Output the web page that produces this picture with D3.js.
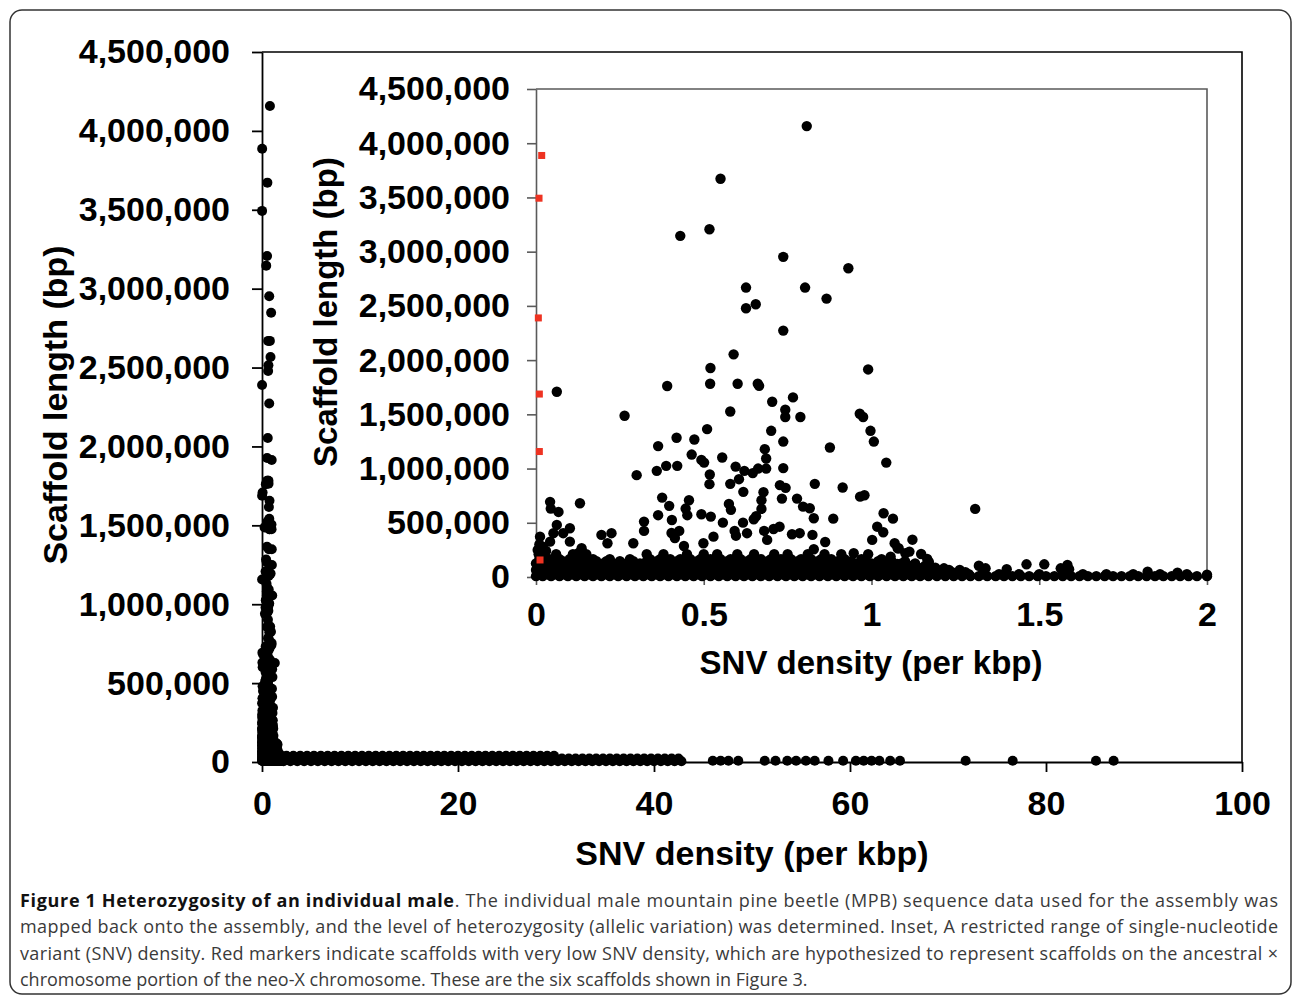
<!DOCTYPE html>
<html>
<head>
<meta charset="utf-8">
<script src="https://cdn.jsdelivr.net/npm/d3@7"></script>
<style>
  body { margin: 0; background: #fff; }
  text { font-family: "Liberation Sans", Arial, sans-serif; }
</style>
</head>
<body>
<svg id="fig" width="1293" height="999"></svg>
<script>
// scaffolds that stand out of the crowd, [SNV density per kbp, scaffold length bp]
const spreadPoints = [
  [0.430,3146000],[0.517,3207000],[0.550,3672000],[0.807,4158000],[0.737,2952000],
  [0.931,2847000],[0.626,2669000],[0.802,2669000],[0.626,2478000],[0.655,2515000],
  [0.866,2567000],[0.737,2272000],[0.589,2053000],[0.520,1927000],[0.990,1914000],
  [0.519,1782000],[0.601,1782000],[0.661,1782000],[0.665,1763000],[0.062,1708000],
  [0.391,1761000],[0.766,1656000],[0.704,1616000],[0.743,1542000],[0.743,1475000],
  [0.788,1475000],[0.965,1505000],[0.975,1475000],[0.579,1526000],[0.264,1487000],
  [0.701,1348000],[0.510,1364000],[0.997,1348000],[1.007,1249000],[0.737,1249000],
  [0.419,1284000],[0.472,1268000],[0.364,1207000],[0.682,1179000],[0.876,1194000],
  [0.464,1129000],[0.493,1080000],[0.501,1055000],[0.555,1102000],[1.044,1055000],
  [0.686,1093000],[0.595,1018000],[0.621,979000],[0.646,958000],[0.662,1000000],
  [0.686,1000000],[0.737,1004000],[0.518,945000],[0.517,856000],[0.421,1025000],
  [0.388,1025000],[0.360,979000],[0.300,939000],[0.579,859000],[0.605,902000],
  [0.727,847000],[0.744,822000],[0.831,859000],[0.914,825000],[0.618,785000],
  [0.678,782000],[0.376,732000],[0.397,656000],[0.456,708000],[0.446,631000],
  [0.451,570000],[0.575,674000],[0.581,619000],[0.672,708000],[0.672,628000],
  [0.656,560000],[0.649,533000],[0.778,723000],[0.796,649000],[0.816,634000],
  [0.828,542000],[0.733,723000],[0.966,741000],[0.979,754000],[1.036,588000],
  [1.064,538000],[1.017,464000],[1.002,342000],[0.886,538000],[0.493,579000],
  [0.521,557000],[0.364,570000],[0.405,526000],[0.322,511000],[0.322,425000],
  [0.404,406000],[0.414,360000],[0.427,425000],[0.441,286000],[0.499,311000],
  [0.529,372000],[0.557,501000],[0.592,425000],[0.596,381000],[0.617,501000],
  [0.629,404000],[0.680,425000],[0.689,342000],[0.708,443000],[0.726,464000],
  [0.763,394000],[0.786,404000],[0.824,388000],[0.828,256000],[0.862,323000],
  [0.042,693000],[0.044,631000],[0.067,600000],[0.131,680000],[0.062,480000],
  [0.101,450000],[0.081,404000],[0.052,404000],[0.012,372000],[0.042,326000],
  [0.101,326000],[0.136,265000],[0.126,219000],[0.195,388000],[0.225,404000],
  [0.213,311000],[0.290,311000],[0.947,219000],[1.057,188000],[1.078,265000],
  [1.309,628000],[1.035,413000],[1.069,311000],[1.081,265000],[1.101,219000],
  [1.113,234000],[1.122,344000],[1.077,120000],[1.096,102000],[1.148,212000],
  [1.166,166000],[1.171,139000],[1.181,65000],[1.216,80000],[1.231,65000],
  [1.263,65000],[1.320,104000],[1.340,80000],[1.403,71000],[1.462,117000],
  [1.515,117000],[1.564,80000],[1.584,111000],[1.589,71000],[1.823,49000],
  [1.912,40000],[0.005,250000],[0.010,300000],[0.020,280000],[0.008,210000],
  [0.030,240000],[0.015,190000]
];

// red markers of the inset: very low SNV density scaffolds
const redScaffolds = [
  [0.017,3887000],[0.009,3493000],[0.007,2389000],[0.010,1687000],[0.010,1157000],[0.012,157000]
];

// the crowded band of short scaffolds, one list of SNV densities per length level
const band8k = [0,0.02,0.045,0.07,0.095,0.12,0.145,0.17,0.195,0.22,0.245,0.27,0.295,0.32,0.345,0.37,0.395,
  0.42,0.445,0.47,0.495,0.52,0.545,0.57,0.595,0.62,0.645,0.67,0.695,0.72,0.745,0.77,0.795,0.82,0.845,
  0.87,0.895,0.92,0.945,0.97,0.995,1.02,1.045,1.07,1.095,1.12,1.145,1.17,1.195,1.22,1.245,1.27,1.295,
  1.32,1.345,1.37,1.395,1.42,1.445,1.47,1.495,1.52,1.545,1.57,1.595,1.62,1.645,1.67,1.695,1.72,1.745,
  1.77,1.795,1.82,1.845,1.87,1.895,1.92,1.945,1.97,2.0];
const band25k = [0.01,0.035,0.06,0.085,0.11,0.135,0.16,0.185,0.21,0.235,0.26,0.285,0.31,0.335,0.36,
  0.385,0.41,0.435,0.46,0.485,0.51,0.535,0.56,0.585,0.61,0.635,0.66,0.685,0.71,0.735,0.76,0.785,0.81,
  0.835,0.86,0.885,0.91,0.935,0.96,0.985,1.01,1.035,1.06,1.085,1.11,1.135,1.16,1.19,1.22,1.25,1.29,
  1.33,1.38,1.44,1.50,1.57,1.63,1.70,1.78,1.86,1.94];
const band45k = [0.005,0.03,0.06,0.09,0.12,0.15,0.18,0.21,0.24,0.27,0.30,0.33,0.36,0.39,0.42,0.45,0.48,
  0.51,0.54,0.57,0.60,0.63,0.66,0.69,0.72,0.75,0.78,0.81,0.84,0.87,0.90,0.93,0.96,0.99,1.02,1.05,1.08,
  1.11,1.14,1.17,1.20,1.24,1.28];
const band65k = [0.0,0.028,0.055,0.083,0.11,0.138,0.165,0.193,0.22,0.248,0.275,0.303,0.33,0.358,0.385,
  0.413,0.44,0.468,0.495,0.523,0.55,0.578,0.605,0.633,0.66,0.688,0.715,0.743,0.77,0.798,0.825,0.853,
  0.88,0.908,0.935,0.963,0.99,1.018,1.045,1.073,1.10,1.13,1.16,1.21];
const band85k = [0.015,0.045,0.075,0.105,0.135,0.165,0.195,0.225,0.255,0.285,0.315,0.345,0.375,0.405,
  0.435,0.465,0.495,0.525,0.555,0.585,0.615,0.645,0.675,0.705,0.735,0.765,0.795,0.825,0.855,0.885,
  0.915,0.945,0.975,1.005,1.035,1.065,1.10,1.14,1.19];
const band105k = [0.005,0.035,0.065,0.095,0.125,0.155,0.185,0.215,0.245,0.275,0.305,0.335,0.365,0.395,
  0.425,0.455,0.485,0.515,0.545,0.575,0.605,0.635,0.665,0.695,0.725,0.755,0.785,0.815,0.845,0.875,
  0.905,0.935,0.965,0.995,1.025,1.055,1.085,1.12,1.16];
const band125k = [0.0,0.03,0.06,0.09,0.12,0.16,0.20,0.23,0.27,0.31,0.35,0.38,0.41,0.44,0.47,0.50,0.53,
  0.56,0.59,0.62,0.65,0.68,0.71,0.74,0.77,0.80,0.83,0.86,0.89,0.92,0.96,1.00,1.04,1.09,1.13];
const band145k = [0.02,0.05,0.08,0.11,0.14,0.18,0.21,0.25,0.29,0.33,0.36,0.39,0.42,0.45,0.48,0.51,0.54,
  0.57,0.60,0.63,0.66,0.69,0.72,0.75,0.78,0.81,0.84,0.87,0.90,0.94,0.98,1.02,1.06,1.10];
const band165k = [0.01,0.04,0.07,0.10,0.13,0.17,0.22,0.28,0.34,0.37,0.40,0.43,0.46,0.49,0.52,0.55,0.58,
  0.61,0.64,0.67,0.70,0.73,0.76,0.79,0.82,0.85,0.88,0.92,0.97,1.03];
const band210k = [0.02,0.06,0.11,0.15,0.33,0.38,0.45,0.50,0.54,0.60,0.65,0.71,0.75,0.81,0.86,0.91,0.99];

// short scaffolds beyond 2 per kbp (main plot only)
const tailLow = [2.2,2.9,3.6,4.3,5.0,5.7,6.4,7.1,7.8,8.5,9.2,9.9,10.6,11.3,12.0,12.7,13.4,14.1,14.8,
  15.5,16.2,16.9,17.6,18.3,19.0,19.7,20.4,21.1,21.8,22.5,23.2,23.9,24.6,25.3,26.0,26.7,27.4,28.1,28.8,
  29.5,30.2,30.9,31.6,32.3,33.0,33.7,34.4,35.1,35.8,36.5,37.2,37.9,38.6,39.3,40.0,40.7,41.4,42.1,42.8];
const tailMid = [2.0,2.6,3.3,4.0,4.7,5.4,6.1,6.8,7.5,8.2,8.9,9.6,10.3,11.0,11.7,12.4,13.1,13.8,14.5,
  15.2,15.9,16.6,17.3,18.0,18.7,19.4,20.1,20.8,21.5,22.2,22.9,23.6,24.3,25.0,25.7,26.4,27.1,27.8,28.5,
  29.2,29.9,30.6,31.3,32.0,32.7,33.4,34.1,34.8,35.5,36.2,36.9,37.6,38.3,39.0,39.7,40.4,41.1,41.8,42.5];
const tailHigh = [2.5,3.2,3.9,4.6,5.3,6.0,6.7,7.4,8.1,8.8,9.5,10.2,10.9,11.6,12.3,13.0,13.7,14.4,15.1,
  15.8,16.5,17.2,17.9,18.6,19.3,20.0,20.7,21.4,22.1,22.8,23.5,24.2,24.9,25.6,26.3,27.0,27.7,28.4,29.1,29.8];
const tailSparse = [46.0,46.8,47.6,48.6,51.3,52.4,53.6,54.5,55.5,56.4,57.8,59.3,60.6,61.4,62.2,63.0,
  64.1,65.1,71.8,76.6,85.1,86.9];

const lengthTicks = [0,500000,1000000,1500000,2000000,2500000,3000000,3500000,4000000,4500000];
const mainXTicks = [0,20,40,60,80,100];
const insetXTicks = [0,0.5,1,1.5,2];

const captionLines = [
  "mapped back onto the assembly, and the level of heterozygosity (allelic variation) was determined. Inset, A restricted range of single-nucleotide",
  "variant (SNV) density. Red markers indicate scaffolds with very low SNV density, which are hypothesized to represent scaffolds on the ancestral \u00d7",
  "chromosome portion of the neo-X chromosome. These are the six scaffolds shown in Figure 3."
];

// put every series together
function rows(xs, y) { return xs.map(x => [x, y]); }
let allPoints = [].concat(
  rows(band8k, 8000), rows(band25k, 25000), rows(band45k, 45000), rows(band65k, 65000),
  rows(band85k, 85000), rows(band105k, 105000), rows(band125k, 125000), rows(band145k, 145000),
  rows(band165k, 165000), rows(band210k, 210000),
  spreadPoints,
  rows(tailLow, 5000), rows(tailMid, 22000), rows(tailHigh, 40000), rows(tailSparse, 8000)
);

let svg = d3.select("#fig");

svg.append("rect")
  .attr("x", 10).attr("y", 10)
  .attr("width", 1281).attr("height", 984)
  .attr("rx", 12)
  .attr("fill", "none")
  .attr("stroke", "#333")
  .attr("stroke-width", 1.5);

// ---- main plot
let xMain = d3.scaleLinear().domain([0, 100]).range([262, 1242]);
let yMain = d3.scaleLinear().domain([0, 4500000]).range([762, 52]);

let main = svg.append("g").attr("id", "main");

main.append("path")
  .attr("d", "M" + xMain(0) + "," + yMain(4500000) + "H" + xMain(100) + "V" + yMain(0))
  .attr("fill", "none").attr("stroke", "#000").attr("stroke-width", 1.6);

main.append("g")
  .attr("transform", "translate(" + xMain(0) + ",0)")
  .call(d3.axisLeft(yMain).tickValues(lengthTicks).tickFormat(d3.format(","))
        .tickSize(10).tickSizeOuter(0).tickPadding(22))
  .call(g => g.selectAll("path, line").attr("stroke", "#000").attr("stroke-width", 1.8))
  .call(g => g.selectAll("text").attr("font-size", 34).attr("font-weight", "bold").attr("fill", "#000"));

main.append("g")
  .attr("transform", "translate(0," + yMain(0) + ")")
  .call(d3.axisBottom(xMain).tickValues(mainXTicks).tickSize(10).tickSizeOuter(0).tickPadding(19))
  .call(g => g.selectAll("path, line").attr("stroke", "#000").attr("stroke-width", 1.8))
  .call(g => g.selectAll("text").attr("font-size", 34).attr("font-weight", "bold").attr("fill", "#000"));

main.append("text")
  .attr("x", 752).attr("y", 865)
  .attr("text-anchor", "middle")
  .attr("font-size", 34).attr("font-weight", "bold")
  .text("SNV density (per kbp)");

main.append("text")
  .attr("transform", "translate(67,405) rotate(-90)")
  .attr("text-anchor", "middle")
  .attr("font-size", 34).attr("font-weight", "bold")
  .text("Scaffold length (bp)");

main.append("g")
  .selectAll("circle")
  .data(allPoints.concat(redScaffolds))
  .join("circle")
  .attr("cx", d => xMain(d[0]))
  .attr("cy", d => yMain(d[1]))
  .attr("r", 5)
  .attr("fill", "#000");

// ---- inset
let xIn = d3.scaleLinear().domain([0, 2]).range([536, 1207]);
let yIn = d3.scaleLinear().domain([0, 4500000]).range([577, 89]);
let insetGray = "#5a5a5a";

let inset = svg.append("g").attr("id", "inset");

inset.append("path")
  .attr("d", "M" + xIn(0) + "," + yIn(4500000) + "H" + xIn(2) + "V" + yIn(0))
  .attr("fill", "none").attr("stroke", insetGray).attr("stroke-width", 1.6);

inset.append("g")
  .attr("transform", "translate(" + xIn(0) + ",0)")
  .call(d3.axisLeft(yIn).tickValues(lengthTicks).tickFormat(d3.format(","))
        .tickSize(9).tickSizeOuter(0).tickPadding(17))
  .call(g => g.selectAll("path, line").attr("stroke", insetGray).attr("stroke-width", 1.6))
  .call(g => g.selectAll("text").attr("font-size", 34).attr("font-weight", "bold").attr("fill", "#000"));

inset.append("g")
  .attr("transform", "translate(0," + yIn(0) + ")")
  .call(d3.axisBottom(xIn).tickValues(insetXTicks).tickFormat(d3.format("")).tickSize(8)
        .tickSizeOuter(0).tickPadding(17))
  .call(g => g.selectAll("path, line").attr("stroke", insetGray).attr("stroke-width", 1.6))
  .call(g => g.selectAll("text").attr("font-size", 34).attr("font-weight", "bold").attr("fill", "#000"));

inset.append("text")
  .attr("x", 871).attr("y", 674)
  .attr("text-anchor", "middle")
  .attr("font-size", 33).attr("font-weight", "bold")
  .text("SNV density (per kbp)");

inset.append("text")
  .attr("transform", "translate(337,312) rotate(-90)")
  .attr("text-anchor", "middle")
  .attr("font-size", 33).attr("font-weight", "bold")
  .text("Scaffold length (bp)");

inset.append("g")
  .selectAll("circle")
  .data(allPoints.filter(d => d[0] <= 2))
  .join("circle")
  .attr("cx", d => xIn(d[0]))
  .attr("cy", d => yIn(d[1]))
  .attr("r", 5.2)
  .attr("fill", "#000");

inset.append("g")
  .selectAll("rect")
  .data(redScaffolds)
  .join("rect")
  .attr("x", d => xIn(d[0]) - 3.5)
  .attr("y", d => yIn(d[1]) - 3.5)
  .attr("width", 7).attr("height", 7)
  .attr("fill", "#ee3322");

// ---- caption
let cap = svg.append("g")
  .attr("font-size", 18)
  .attr("fill", "#3a3a3a");

let first = cap.append("text")
  .attr("x", 20).attr("y", 907)
  .attr("textLength", 1258).attr("lengthAdjust", "spacing")
  .style("font-family", "'Open Sans', sans-serif");
first.append("tspan").attr("font-weight", "bold").attr("fill", "#111")
  .text("Figure 1 Heterozygosity of an individual male");
first.append("tspan")
  .text(". The individual male mountain pine beetle (MPB) sequence data used for the assembly was");

cap.selectAll("text.line")
  .data(captionLines)
  .join("text")
  .attr("class", "line")
  .style("font-family", "'Open Sans', sans-serif")
  .attr("x", 20)
  .attr("y", (d, i) => 933 + i * 26.5)
  .attr("textLength", (d, i) => i < 2 ? 1258 : null)
  .attr("lengthAdjust", "spacing")
  .text(d => d);
</script>
</body>
</html>
